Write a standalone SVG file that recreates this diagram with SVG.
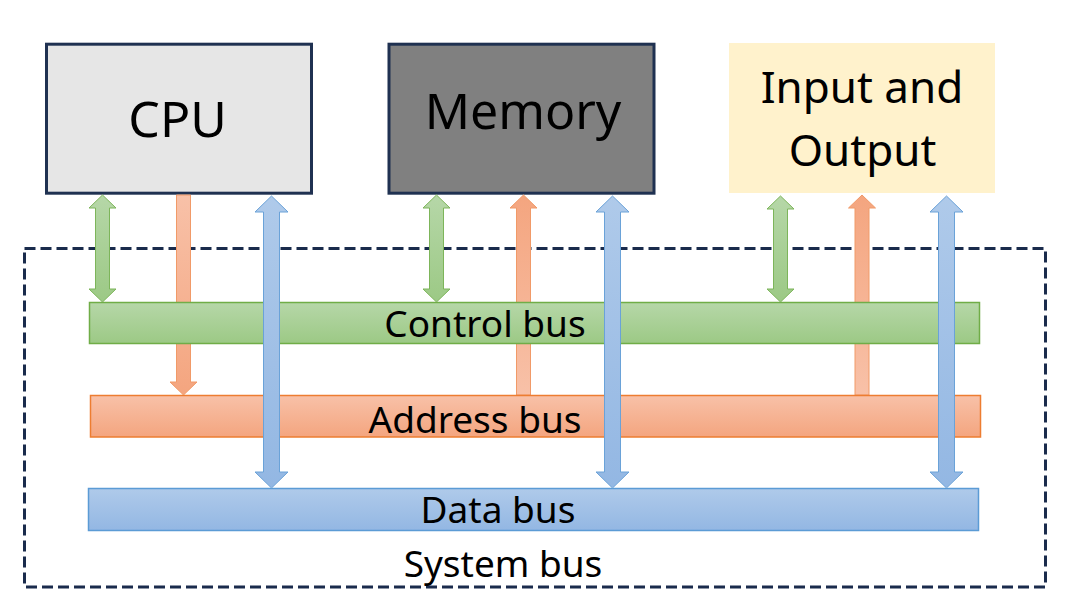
<svg xmlns="http://www.w3.org/2000/svg" width="1077" height="614" viewBox="0 0 1077 614">
<defs>
<linearGradient id="gGreen" x1="0" y1="0" x2="0" y2="1"><stop offset="0" stop-color="#B6D7A8"/><stop offset="1" stop-color="#9CC985"/></linearGradient>
<linearGradient id="gOrange" x1="0" y1="0" x2="0" y2="1"><stop offset="0" stop-color="#F8C1A8"/><stop offset="1" stop-color="#F4A57F"/></linearGradient>
<linearGradient id="gOrangeUp" x1="0" y1="1" x2="0" y2="0"><stop offset="0" stop-color="#F8C1A8"/><stop offset="1" stop-color="#F4A57F"/></linearGradient>
<linearGradient id="gBlue" x1="0" y1="0" x2="0" y2="1"><stop offset="0" stop-color="#AFCAEA"/><stop offset="1" stop-color="#93B7E3"/></linearGradient>
</defs>
<style>
.lbl{font-family:"Noto Sans","Open Sans","Liberation Sans",sans-serif;fill:#000;text-anchor:middle}
.big{font-size:50px}
.mid{font-size:44px}
.bus{font-size:37px}
.box{stroke:#1F3151;stroke-width:3}
.ga{fill:url(#gGreen);stroke:#7DB55A;stroke-width:1}
.oa{fill:url(#gOrange);stroke:#F19A68;stroke-width:1}
.oau{fill:url(#gOrangeUp);stroke:#F19A68;stroke-width:1}
.ba{fill:url(#gBlue);stroke:#6AA2D8;stroke-width:1}
</style>
<rect width="1077" height="614" fill="#FFFFFF"/>
<g id="system-bus">
<rect x="24.5" y="248.5" width="1021" height="338.5" fill="none" stroke="#1A2B4C" stroke-width="3" stroke-dasharray="11 5"/>
<text class="lbl bus" x="503" y="577">System bus</text>
</g>
<g id="cpu">
<rect class="box" x="46.5" y="44.2" width="265" height="149" fill="#E6E6E6"/>
<text class="lbl big" x="177.5" y="137">CPU</text>
</g>
<g id="memory">
<rect class="box" x="389" y="44.2" width="265" height="149" fill="#808080"/>
<text class="lbl big" x="523" y="129">Memory</text>
</g>
<g id="io">
<rect x="729" y="43" width="266" height="150" fill="#FFF2CC"/>
<text class="lbl mid" x="862" y="103">Input and</text>
<text class="lbl mid" x="862.5" y="166">Output</text>
</g>
<g id="connectors-back">
<path class="oa" d="M176.5,195 L190.5,195 L190.5,382 L197,382 L183.5,395 L170,382 L176.5,382 Z"/>
<path class="oau" d="M523.5,195 L537,208 L530.5,208 L530.5,395 L516.5,395 L516.5,208 L510,208 Z"/>
<path class="oau" d="M862,195 L875.5,208 L869,208 L869,395 L855,395 L855,208 L848.5,208 Z"/>
<path class="ga" d="M102.5,195 L116,208 L109.5,208 L109.5,289 L116,289 L102.5,302 L89,289 L95.5,289 L95.5,208 L89,208 Z"/>
<path class="ga" d="M436.5,195 L450,208 L443.5,208 L443.5,289 L450,289 L436.5,302 L423,289 L429.5,289 L429.5,208 L423,208 Z"/>
<path class="ga" d="M780.5,196 L794,209 L787.5,209 L787.5,289 L794,289 L780.5,302 L767,289 L773.5,289 L773.5,209 L767,209 Z"/>
</g>
<g id="control-bus">
<rect x="89.5" y="302.5" width="890" height="41" fill="url(#gGreen)" stroke="#70AD47" stroke-width="1.5"/>
<text class="lbl bus" x="485" y="337">Control bus</text>
</g>
<g id="address-bus">
<rect x="90.5" y="395.5" width="890" height="41.5" fill="url(#gOrange)" stroke="#ED7D31" stroke-width="1.5"/>
<text class="lbl bus" x="475" y="433">Address bus</text>
</g>
<g id="data-bus">
<rect x="88.5" y="488.5" width="890" height="42" fill="url(#gBlue)" stroke="#5B9BD5" stroke-width="1.5"/>
<text class="lbl bus" x="498" y="522.5">Data bus</text>
</g>
<g id="connectors-front">
<path class="ba" d="M271.5,196 L288,212 L279.5,212 L279.5,472 L288,472 L271.5,488 L255,472 L263.5,472 L263.5,212 L255,212 Z"/>
<path class="ba" d="M612.5,196 L629,212 L620.5,212 L620.5,472 L629,472 L612.5,488 L596,472 L604.5,472 L604.5,212 L596,212 Z"/>
<path class="ba" d="M946.5,196 L963,212 L954.5,212 L954.5,472 L963,472 L946.5,488 L930,472 L938.5,472 L938.5,212 L930,212 Z"/>
</g>
</svg>
